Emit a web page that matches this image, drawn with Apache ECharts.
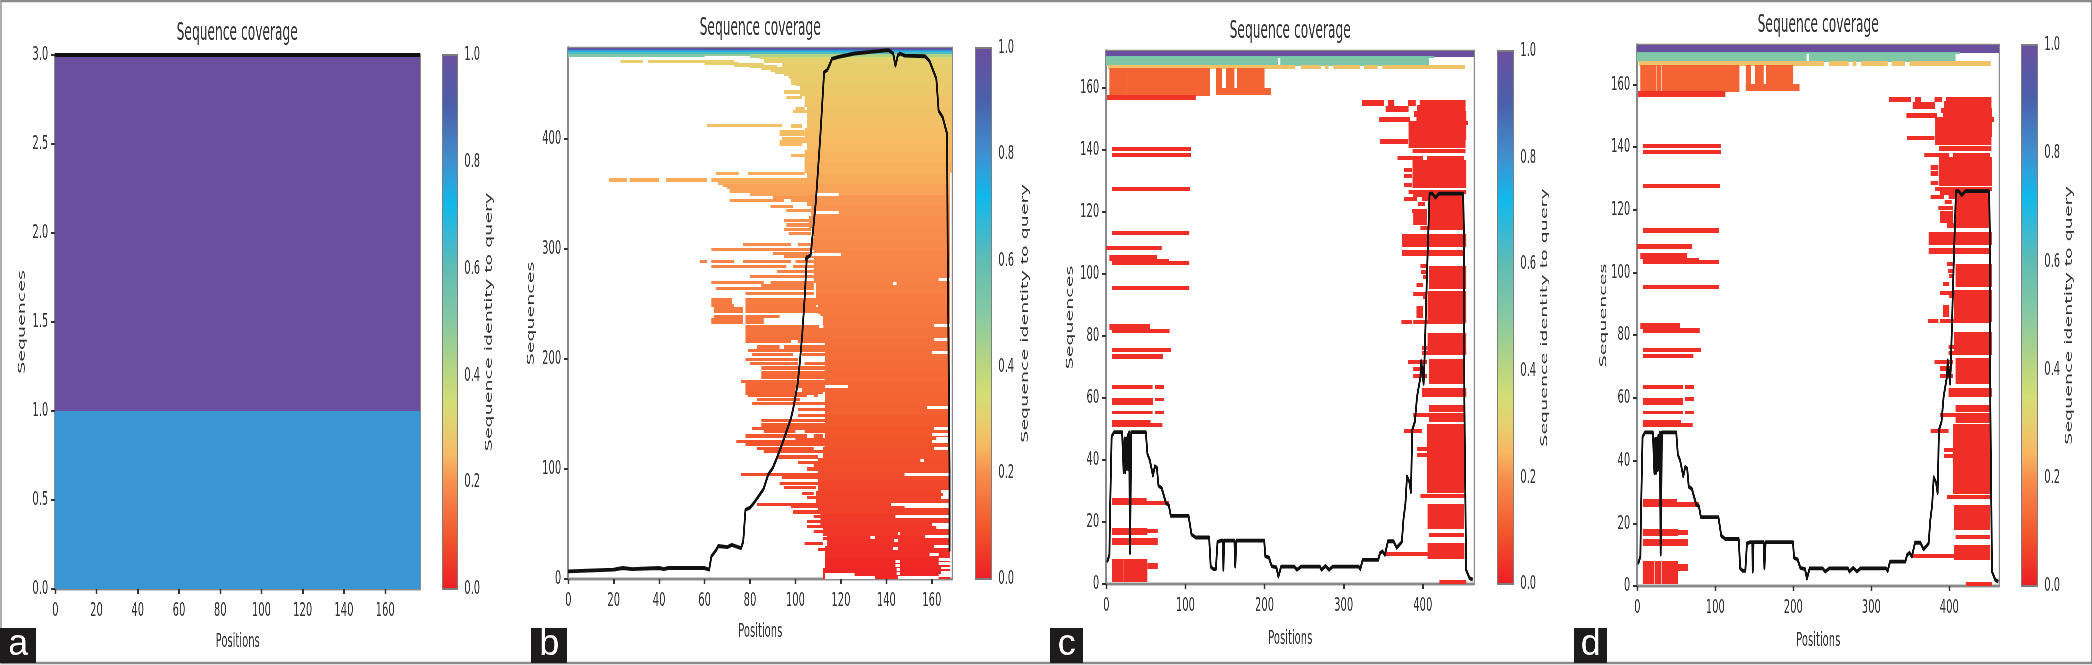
<!DOCTYPE html>
<html><head><meta charset="utf-8">
<style>
html,body{margin:0;padding:0;background:#fff;overflow:hidden;width:2092px;height:665px}
#clip{position:absolute;left:0;top:0;width:2092px;height:665px;overflow:hidden;filter:blur(0.6px)}
#c{position:absolute;left:0;top:0;width:4184px;height:665px;transform:scaleX(0.5);transform-origin:0 0}
</style>
<script src="https://cdn.jsdelivr.net/npm/echarts@6/dist/echarts.min.js"></script>
</head><body><div id="clip"><div id="c"></div></div>
<script>
// ---------- tick labels ----------
const aXTicks=[0,20,40,60,80,100,120,140,160];
const aYTicks=[0,0.5,1,1.5,2,2.5,3];
const bXTicks=[0,20,40,60,80,100,120,140,160];
const bYTicks=[0,100,200,300,400];
const cdXTicks=[0,100,200,300,400];
const cdYTicks=[0,20,40,60,80,100,120,140,160];
const barTicks=[0,0.2,0.4,0.6,0.8,1];
// ---------- colour scale of the colour bar: [identity, colour] ----------
const identityScale=[[0,'#ee1c25'],[0.1,'#f2582c'],[0.2,'#f88f4e'],[0.25,'#f7b962'],[0.3,'#e6cf6e'],[0.35,'#d3de75'],[0.4,'#bcd67f'],[0.5,'#87c9a3'],[0.6,'#5fbdb3'],[0.65,'#3fb9cf'],[0.72,'#10b9ec'],[0.8,'#4090d0'],[0.9,'#4b60ab'],[1,'#6a4f9f']];
// ---------- panel a: [seqFrom, seqTo, posFrom, posTo, identity] ----------
const aRows=[[0,1,0,177,0.79],[1,3,0,177,1]];
const aCoverage=[[0,3],[177,3]];
// ---------- panel b ----------
// identity of each 10-sequence band, bottom to top
const bBandIdentity=[.015,.02,.03,.035,.045,.05,.06,.065,.07,.08,.085,.09,.095,.10,.105,.115,.12,.125,.13,.135,.14,.145,.15,.155,.16,.165,.17,.175,.18,.185,.19,.195,.20,.205,.21,.225,.235,.24,.245,.25,.26,.265,.27,.275,.285,.29,.295,.30];
// left edge of the dense block in each band
const bBandLeft=[112,113,113,114,112,111,110,109,110,110,110,112,113,113,113,113,113,113,113,113,113,113,113,112,110,109,109,108,108,108,107,108,106,107,105,104,105,104,104,105,104,105,105,104,102,98,94,86];
// top rows: [seqFrom, seqTo, posFrom, posTo, identity]
const bTopRows=[[481.5,483,0,169,1],[481,481.5,0,169,.9],[479.5,481,0,169,.8],[478.5,479.5,0,169,.7],[477.5,478.5,0,169,.62],[475.5,477.5,0,60,.52],[476.5,477.5,60,80,.48],[474,477.5,80,169,.42],[473,474,84,169,.33]];
// single sequences left of the block: [seq, posFrom, posTo]
const bStreaks=[[470.5,23,33],[470.5,35,73],[469,60,75],[467.5,73,86],[466,80,92],[464.5,85,94],[463,89,97],[461,91,99],[459,95,100],[456,97,103],[450,100,104],[443,95,102],[438,96,103],[428,100,104],[425,99,105],[412.5,61,94],[412,98,103],[407,93,104],[404,93,104],[401,94,104],[398,93,105],[395,93,103],[385,98,104],[369,65,75],[369,79,104],[363,18,26],[363,27,40],[363,43,61],[363,63,105],[360,66,106],[358,68,106],[356,70,105],[353,71,106],[350,80,106],[347,90,105],[344,71,95],[344,98,106],[339,89,99],[335,96,107],[326,95,107],[322,96,106],[318,95,107],[314,97,107],[304,77,98],[304,101,107],[300,63,107],[296,90,108],[293,95,108],[289,58,61],[289,63,73],[289,77,98],[289,100,108],[284,63,96],[284,99,108],[280,92,108],[275,80,108],[270,63,86],[270,89,108],[267,85,108],[264,65,108],[260,78,108],[254,63,72],[254,78,109],[252,63,72],[252,78,109],[249,63,73],[249,78,109],[246,64,77],[246,78,110],[243,64,77],[243,78,110],[239,64,77],[239,78,93],[236,63,77],[236,78,86],[233,63,77],[233,78,86],[230,78,112],[228,78,113],[225,78,113],[222,78,113],[219,78,113],[216,78,98],[216,101,113],[211,83,93],[211,95,113],[208,79,113],[204,81,99],[204,103,113],[200,78,101],[196,80,101],[196,104,113],[192,85,113],[188,85,113],[185,85,113],[183,85,113],[180,76,113],[177,78,113],[175,78,113],[172,78,100],[172,103,113],[169,78,112],[167,79,105],[167,108,112],[163,83,102],[160,81,113],[154,101,113],[149,101,113],[144,85,113],[140,85,113],[137,81,113],[134,86,100],[134,104,113],[130,78,105],[130,108,112],[127,100,113],[125,74,113],[122,78,113],[119,83,108],[116,86,112],[111,92,110],[106,101,110],[103,108,112],[100,105,112],[95,76,115],[92,94,110],[87,93,110],[83,95,109],[78,103,108],[74,105,109],[68,83,110],[66,98,110],[61,99,111],[57,108,119],[52,105,112],[48,105,114],[43,108,117],[37,112,116],[32,104,112],[27,110,114]];
// uncovered gaps inside the block: [seq, posFrom, posTo]
const bGaps=[[350,109,119],[333,109,119],[295,106,120],[175,113,123],[240,109,111],[230,110.5,112.3],[167,110,112.3],[272,163,168],[269,143,144.5],[231,161,168],[218,161,167],[206,160,167],[156,158,167],[137,161,167],[131,160,167],[128,162,167],[125,160,167],[119,161,167],[108,155,156.5],[95,148,168],[80,164,168],[77,165,168],[74,164,168],[68,142,168],[66,148,168],[57,144,168],[50,160,168],[47,162,168],[39,157,168],[30,161,168],[22,159,163],[18,163,168],[14,163,168],[10,164,168],[6,164,168],[3,163,168],[4,113,126],[38,133,135],[5,144.5,146],[9,144.5,146],[12,144,146],[16,144,146],[28,143,145],[35,143.5,145],[41,145,146],[1,113,135],[1.5,145,163]];
const bCoverage=[[0,7],[20,8.5],[24,10],[28,9],[40,10],[42,9],[44,10],[60,10],[62,8.5],[63,20.6],[65,26],[66,30],[70,29],[72,31],[76,28],[77,34],[78,63],[80,65],[82,70],[84,76],[86,82],[88,95],[90,101],[92,111],[94,122],[96,134],[98,146],[99,155],[100,166],[101,178],[102,199],[103,223],[104,254],[105,293],[104.6,291],[106.7,295],[109,344],[111,405],[112.6,461],[114,463],[115.3,469],[116,473],[119,475],[126,478],[133,479.5],[141,481],[143,478],[144,467],[145,476],[146,478],[148,476],[157,475.5],[159,471],[162,455],[163,426],[164.8,420],[166.7,405],[167,300],[167.8,100],[167.8,25]];
// ---------- panels c and d: [seqFrom, seqTo, posFrom, posTo, identity] ----------
const cdRows=[
[170.2,172.6,0,465,1],[169.9,170.2,0,414,.55],[167.3,169.9,0,217,.52],[167.3,169.9,220,408,.52],
[166.2,167.3,2,239,.27],[166.2,167.3,246,271,.27],[166.2,167.3,276,281,.27],[166.2,167.3,287,321,.27],[166.2,167.3,326,343,.27],[166.2,167.3,349,453,.27],
[157.7,166.2,4,24.7,.12],[157.7,166.2,25.3,31,.12],[157.7,166.2,31.6,131,.12],[159,166.2,139,146,.12],[159,166.2,151,162,.12],[160,166.2,165,200,.12],[158,160,139,208,.12],
[156.3,157.7,1,113,.04],
[140,141,7,107,.03],[137.9,138.9,7,107,.03],[127,128,7,106,.03],[112.9,113.9,7,105,.03],[107.8,108.8,0,70,.03],[104.4,106,4,64,.03],[103.6,104.6,7,79,.03],[103,104,7,105,.03],[94.9,95.9,7,105,.03],
[82.1,83.8,4,55,.03],[81,82.1,7,80,.03],[74.9,75.9,7,82,.03],[72.9,73.9,7,72,.03],[63,64,7,58.5,.03],[63,64,61.5,73,.03],[58,59.9,7,59,.03],[59.2,60,61.5,73,.03],[54.9,55.8,7,58.5,.03],[54.9,55.8,61.5,73,.03],[51.9,52.7,7,56,.03],[50.9,51.9,7,71,.03],
[25.8,27.7,7,51,.03],[25.5,26.5,7,79,.03],[16,17.9,7,52,.03],[16.5,17.6,7,65,.03],[12.8,14.7,7,65,.03],[0.8,7.8,7,22,.03],[0.8,7.8,22.6,31,.03],[0.8,7.8,31.6,52,.03],[5.1,6.7,52,65,.03],
[154.5,156,323,351,.03],[154.5,156,356,364,.03],[154.5,156,381,391,.03],[154.5,156,396,454,.03],[152.4,154.2,353,382,.03],[152.4,154.5,393,454,.03],[151,152.4,389,455,.03],[149.4,150.7,345,384,.03],[149.4,151,392,455,.03],[148.2,149.4,382,457,.03],[143.4,148.2,382,455,.03],[142.3,143.4,346,381,.03],[141,143.4,382,454,.03],[139.1,140.1,387,454,.03],[137,138,368,400,.03],[137,138,405,452,.03],[127.9,136.7,387,455,.03],[133,134,376,386,.03],[131.1,132.1,376,386,.03],[128.2,129.2,376,386,.03],[126.1,127.1,382,455,.03],[125,126.1,388,452,.03],[123.7,124.7,376,393,.03],[123.7,125,399,452,.03],[122.1,123.1,394,403,.03],[120,121,386,405,.03],[115.9,119.6,388,405,.03],[114.5,123.7,408,452,.03],[114.5,115.5,397,408,.03],
[109,112.8,373.5,455,.03],[106,107.7,373.5,452,.03],[95.5,102.6,408,455,.03],[102.1,103.1,397,406,.03],[100.1,101.1,398,406,.03],[98.5,99.5,400,406,.03],[95.9,96.9,392,400,.03],[84.3,94.4,406,455,.03],[93.1,94.1,388,405,.03],[92,93,400,405,.03],[85.9,89.6,392,400,.03],[84,85,373,386,.03],[84,85,388,452,.03],
[74.7,80.8,406,455,.03],[75.8,76.8,399,406,.03],[73.9,74.9,399,455,.03],[64.6,72.6,408,452,.03],[71.1,72.1,381,405,.03],[68.9,69.9,388,403,.03],[66.5,67.5,388,405,.03],[60.4,63,399,455,.03],[60.4,62,409,455,.03],
[55.6,57.7,408,452,.03],[54,55,388,452,.03],[52.3,53.8,408,452,.03],[29.5,51.6,405,452,.03],[48.9,49.9,376,399,.03],[43,44,393,408,.03],[41,42,393,408,.03],[27.8,28.8,397,455,.03],[18,25.8,406,452,.03],[15.2,16.2,408,452,.03],[8.3,13,406,452.6,.03],[9.2,10.2,352,408,.03],[0,1,421,455,.03]];
const cdCoverage=[[1,7],[4,9.4],[4.7,22],[6.8,47.6],[10,49],[20,49],[22,36],[23,47],[24,36],[25,47],[26,37],[27,48],[28,37],[29,49],[30,10],[31.6,49],[50,49],[52,42],[55,40],[59,35],[61.5,38],[64,37.5],[66,31.7],[70,31],[75.6,26],[79,25.5],[81.6,22],[104,22],[107.7,16],[113,15],[130,15],[132,5.6],[135.5,4.8],[138.5,4.8],[140.6,13.6],[145,14],[147.5,14],[148,4.6],[149,14],[162,14],[163,5.6],[164.5,14],[199.6,14],[201,9],[205.5,8.5],[209,5.8],[215,5.4],[217.5,2.4],[221,5.6],[237.6,5.6],[241,4.6],[246,5.6],[270,5.6],[272,4.6],[277,5.8],[281.6,4.6],[286,5.6],[319,5.6],[321,4.8],[324,7.8],[343.6,7.8],[346,10],[349,10.6],[352,9.4],[356,13.8],[363,13.8],[367,11.7],[373.5,13.6],[375.6,21],[378,25.8],[380,34.7],[383,33],[385,29.6],[386.7,49.8],[390,52.4],[392.7,60.4],[397,66.8],[398,72],[401,64.6],[402,71],[405.5,101.9],[408.5,126],[412,126],[416,124.7],[420.5,126],[451,126],[452,112],[452.5,59],[454.7,4.6],[459,1.9],[463,1.4]];
const titleText='Sequence coverage', xName='Positions', yName='Sequences', barName='Sequence identity to query';
const panelTags=['a','b','c','d'];

// ---------- build ----------
const K=2;                    // the picture is squeezed horizontally
function hex(c){return [1,3,5].map(i=>parseInt(c.substr(i,2),16));}
function colorAt(v){
  for(let i=1;i<identityScale.length;i++){
    const a=identityScale[i-1],b=identityScale[i];
    if(v<=b[0]){const t=(v-a[0])/(b[0]-a[0]),p=hex(a[1]),q=hex(b[1]);
      return 'rgb('+p.map((x,j)=>Math.round(x+(q[j]-x)*t)).join(',')+')';}
  }
  return identityScale[identityScale.length-1][1];
}
function bIdentity(seq){return bBandIdentity[Math.min(bBandIdentity.length-1,Math.floor(seq/10))];}
const bBandRows=bBandIdentity.map((v,i)=>[i*10,Math.min(i*10+10,474),bBandLeft[i],i>=37?169:168,v]);
const bStreakRows=bStreaks.map(s=>[s[0]-1,s[0]+1,s[1],s[2],bIdentity(s[0])]);
const bGapRows=bGaps.map(s=>[s[0]-0.9,s[0]+0.9,s[1],s[2],null]);

const panels=[
 {l:55,r:420,t:55,b:589,xMax:177,yMax:3,xT:aXTicks,yT:aYTicks,fmt:v=>v.toFixed(1),layers:[{d:aRows}],cov:aCoverage,barL:442,barR:457,
  titleX:237,titleY:21,tagX:0,tagW:36,yGap:56,xGap:43,barGap:55},
 {l:568,r:952,t:48,b:579,xMax:169,yMax:483,xT:bXTicks,yT:bYTicks,fmt:v=>String(v),layers:[{d:bStreakRows,o:.75},{d:bBandRows},{d:bGapRows},{d:bTopRows}],cov:bCoverage,barL:975,barR:991,
  titleX:760,titleY:16,tagX:531,tagW:36,yGap:64,xGap:43,barGap:59},
 {l:1106,r:1474,t:51,b:584,xMax:465,yMax:172,xT:cdXTicks,yT:cdYTicks,fmt:v=>String(v),layers:[{d:cdRows}],cov:cdCoverage,barL:1497,barR:1513,
  titleX:1290,titleY:19,tagX:1050,tagW:33,yGap:62,xGap:45,barGap:54},
 {l:1637,r:1999,t:45,b:586,xMax:464,yMax:172.6,xT:cdXTicks,yT:cdYTicks,fmt:v=>String(v),layers:[{d:cdRows}],cov:cdCoverage,barL:2021,barR:2037,
  titleX:1818,titleY:13,tagX:1574,tagW:33,yGap:57,xGap:45,barGap:55}
];
const FONT='DejaVu Sans',TXT='#333',SPINE='#8a8a8a',TICK='#333';
const grid=[],xAxis=[],yAxis=[],series=[],title=[],graphic=[];
function rowsItem(params,api){
  const p0=api.coord([api.value(2),api.value(0)]),p1=api.coord([api.value(3),api.value(1)]);
  const v=api.value(4);
  const top=Math.floor(p1[1]),bot=Math.ceil(p0[1]);
  return {type:'rect',shape:{x:p0[0],y:top,width:p1[0]-p0[0],height:bot-top},
    style:{fill:isNaN(v)?'#fff':colorAt(v)}};
}
panels.forEach((p,i)=>{
  const g=grid.length;
  grid.push({left:p.l*K,width:(p.r-p.l)*K,top:p.t,height:p.b-p.t,show:true,borderColor:SPINE,borderWidth:2.4,backgroundColor:'#fff',containLabel:false});
  xAxis.push({gridIndex:g,type:'value',min:0,max:p.xMax,name:xName,nameLocation:'middle',nameGap:p.xGap,
    nameTextStyle:{fontFamily:FONT,fontSize:20,color:TXT},
    axisLine:{show:true,onZero:false,lineStyle:{color:SPINE,width:2.4}},
    axisTick:{show:true,length:5,customValues:p.xT,lineStyle:{color:TICK,width:3.4}},
    axisLabel:{customValues:p.xT,margin:12,fontFamily:FONT,fontSize:20,color:TXT},splitLine:{show:false}});
  yAxis.push({gridIndex:g,type:'value',min:0,max:p.yMax,name:yName,nameLocation:'middle',nameRotate:90,nameGap:p.yGap,
    nameTextStyle:{fontFamily:FONT,fontSize:19,color:TXT},
    axisLine:{show:true,onZero:false,lineStyle:{color:SPINE,width:4}},
    axisTick:{show:true,length:8,customValues:p.yT,lineStyle:{color:TICK,width:2}},
    axisLabel:{customValues:p.yT,margin:14,fontFamily:FONT,fontSize:20,color:TXT,formatter:p.fmt},splitLine:{show:false}});
  p.layers.forEach(l=>series.push({type:'custom',xAxisIndex:g,yAxisIndex:g,renderItem:rowsItem,clip:true,silent:true,
    encode:{x:[2,3],y:[0,1]},itemStyle:{opacity:l.o||1},data:l.d,z:2,animation:false}));
  series.push({type:'line',xAxisIndex:g,yAxisIndex:g,data:p.cov,showSymbol:false,symbol:'none',clip:false,silent:true,
    lineStyle:{color:'#111',width:3.8,join:'round'},z:5,animation:false});
  // colour bar
  const h=grid.length;
  grid.push({left:p.barL*K,width:(p.barR-p.barL)*K,top:p.t,height:p.b-p.t,show:false});
  xAxis.push({gridIndex:h,type:'value',min:0,max:1,show:false});
  yAxis.push({gridIndex:h,type:'value',min:0,max:1,position:'right',name:barName,nameLocation:'middle',nameRotate:90,nameGap:p.barGap,
    nameTextStyle:{fontFamily:FONT,fontSize:19,color:TXT},
    axisLine:{show:false},
    axisTick:{show:true,length:8,customValues:barTicks,lineStyle:{color:TICK,width:2}},
    axisLabel:{customValues:barTicks,margin:14,fontFamily:FONT,fontSize:20,color:TXT,formatter:v=>v.toFixed(1)},splitLine:{show:false}});
  series.push({type:'custom',xAxisIndex:h,yAxisIndex:h,silent:true,animation:false,data:[[0,1]],
    renderItem:function(params,api){
      const a=api.coord([0,0]),b=api.coord([1,1]);
      return {type:'rect',shape:{x:a[0],y:b[1],width:b[0]-a[0],height:a[1]-b[1]},
        style:{stroke:'#7d7d7d',lineWidth:2,fill:new echarts.graphic.LinearGradient(0,1,0,0,identityScale.map(s=>({offset:s[0],color:s[1]})))}};
    }});
  title.push({text:titleText,left:p.titleX*K,top:p.titleY,textAlign:'center',padding:0,
    textStyle:{fontFamily:FONT,fontSize:24.5,fontWeight:'normal',color:'#333'}});
  graphic.push({type:'rect',shape:{x:p.tagX*K,y:628,width:p.tagW*K,height:35},style:{fill:'#1d1b1c'},z:20});
  graphic.push({type:'text',x:(p.tagX+p.tagW/2)*K,y:645,scaleX:K,style:{text:panelTags[i],fontFamily:'Liberation Sans',fontSize:36,fill:'#fff',align:'center',verticalAlign:'middle'},z:21});
});
graphic.push({type:'rect',shape:{x:1.5,y:1,width:4181,height:662},style:{fill:'none',stroke:'#8a8a8a',lineWidth:2.4},z:19});
const chart=echarts.init(document.getElementById('c'),null,{renderer:'canvas'});
chart.setOption({animation:false,backgroundColor:'#fff',title,grid,xAxis,yAxis,series,graphic});
</script></body></html>
